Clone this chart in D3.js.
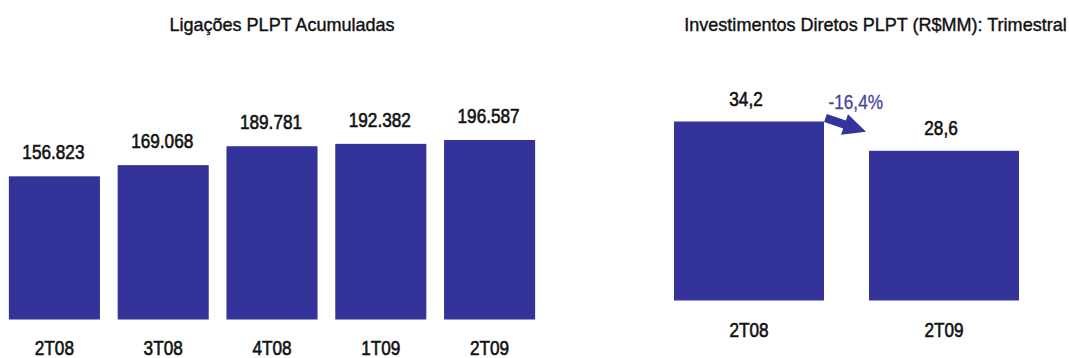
<!DOCTYPE html>
<html lang="pt">
    <head>
        <meta charset="utf-8">
        <title>PLPT</title>
        <script src="https://cdn.jsdelivr.net/npm/d3@7"></script>
        <style>
            body { margin: 0; background: #fff; }
            svg { display: block; }
            .title { font-family: "Liberation Sans", Arial, sans-serif; font-size: 19px; fill: #111; stroke: #111; stroke-width: 0.4px; }
            .lbl { font-family: "Liberation Sans", Arial, sans-serif; font-size: 20px; fill: #111; stroke: #111; stroke-width: 0.6px; }
        </style>
    </head>
    <body>
        <script>
            // data
            var ligCategories = ["2T08", "3T08", "4T08", "1T09", "2T09"];
            var ligValues = [156823, 169068, 189781, 192382, 196587];
            var ligLabels = ["156.823", "169.068", "189.781", "192.382", "196.587"];

            var invCategories = ["2T08", "2T09"];
            var invValues = [34.2, 28.6];
            var invLabels = ["34,2", "28,6"];
            var invChange = "-16,4%";

            var w = 1069;
            var h = 358;
            var barColor = "#333399";
            var squeeze = 0.86;   // no narrow font installed, so squeeze the labels

            var svg = d3.select("body")
                        .append("svg")
                          .attr("width", w)
                          .attr("height", h);

            function place(x, y, sx) {
                return "translate(" + x + "," + y + ") scale(" + sx + ",1)";
            }

            // left chart: Ligações
            var lx = d3.scaleBand()
                       .domain(ligCategories)
                       .range([0, 544])
                       .paddingInner(0.163)
                       .paddingOuter(0.0815);

            var lBase = 319.5;
            var ly = d3.scaleLinear()
                       .domain([0, 196587])
                       .range([lBase, lBase - 179.5]);

            svg.append("text")
               .attr("class", "title")
               .attr("text-anchor", "middle")
               .attr("transform", place(282, 31, 0.95))
               .text("Ligações PLPT Acumuladas");

            svg.selectAll("rect.lig")
                .data(ligValues)
              .enter()
                .append("rect")
                .attr("class", "lig")
                .attr("fill", barColor)
                .attr("x", function(d, i) { return lx(ligCategories[i]); })
                .attr("width", lx.bandwidth())
                .attr("y", function(d) { return ly(d); })
                .attr("height", function(d) { return lBase - ly(d); });

            svg.selectAll("text.ligval")
                .data(ligValues)
              .enter()
                .append("text")
                .attr("class", "lbl ligval")
                .attr("text-anchor", "middle")
                .attr("transform", function(d, i) {
                    return place(lx(ligCategories[i]) + lx.bandwidth() / 2 - 1, ly(d) - 17, squeeze);
                })
                .text(function(d, i) { return ligLabels[i]; });

            // category axis, no line or ticks
            svg.append("g")
               .attr("transform", "translate(0," + lBase + ")")
               .call(d3.axisBottom(lx).tickSize(0))
               .call(function(g) { g.select(".domain").remove(); })
               .selectAll("text")
                 .attr("class", "lbl")
                 .attr("dy", null)
                 .attr("y", null)
                 .attr("fill", null)
                 .attr("transform", place(0, 35.5, squeeze));

            // right chart: Investimentos
            var rx = d3.scaleBand()
                       .domain(invCategories)
                       .range([651.5, 1041.5])
                       .paddingInner(0.2308)
                       .paddingOuter(0.1154);

            var rBase = 300.5;
            var ry = d3.scaleLinear()
                       .domain([0, 34.2])
                       .range([rBase, rBase - 179]);

            svg.append("text")
               .attr("class", "title")
               .attr("text-anchor", "middle")
               .attr("transform", place(875.5, 31, 0.95))
               .text("Investimentos Diretos PLPT (R$MM): Trimestral");

            svg.selectAll("rect.inv")
                .data(invValues)
              .enter()
                .append("rect")
                .attr("class", "inv")
                .attr("fill", barColor)
                .attr("x", function(d, i) { return rx(invCategories[i]); })
                .attr("width", rx.bandwidth())
                .attr("y", function(d) { return ry(d); })
                .attr("height", function(d) { return rBase - ry(d); });

            svg.selectAll("text.invval")
                .data(invValues)
              .enter()
                .append("text")
                .attr("class", "lbl invval")
                .attr("text-anchor", "middle")
                .attr("transform", function(d, i) {
                    return place(rx(invCategories[i]) + rx.bandwidth() / 2 - 3, ry(d) - 16, squeeze);
                })
                .text(function(d, i) { return invLabels[i]; });

            svg.append("g")
               .attr("transform", "translate(0," + rBase + ")")
               .call(d3.axisBottom(rx).tickSize(0))
               .call(function(g) { g.select(".domain").remove(); })
               .selectAll("text")
                 .attr("class", "lbl")
                 .attr("dy", null)
                 .attr("y", null)
                 .attr("fill", null)
                 .attr("transform", place(0, 36, squeeze));

            // change arrow between the two bars
            var x0 = rx(invCategories[0]) + rx.bandwidth() + 1.5;
            var y0 = ry(invValues[0]) - 3.5;
            var x1 = rx(invCategories[1]) - 3;
            var y1 = ry(invValues[1]) - 19;
            var len = Math.sqrt((x1 - x0) * (x1 - x0) + (y1 - y0) * (y1 - y0));
            var ang = Math.atan2(y1 - y0, x1 - x0) * 180 / Math.PI;
            var head = len * 0.47;
            var arrowPts = [[0, -4.2], [head, -4.2], [head, -10.8], [len, 0],
                            [head, 10.8], [head, 4.2], [0, 4.2]];

            svg.append("path")
               .attr("d", d3.line()(arrowPts) + "Z")
               .attr("fill", barColor)
               .attr("transform", "translate(" + x0 + "," + y0 + ") rotate(" + ang + ")");

            svg.append("text")
               .attr("class", "lbl")
               .attr("text-anchor", "middle")
               .attr("transform", place((x0 + x1) / 2 + 10, y0 - 9, squeeze))
               .style("fill", "#4343a3")
               .style("stroke", "#4343a3")
               .style("stroke-width", "0.3px")
               .text(invChange);
        </script>
    </body>
</html>
